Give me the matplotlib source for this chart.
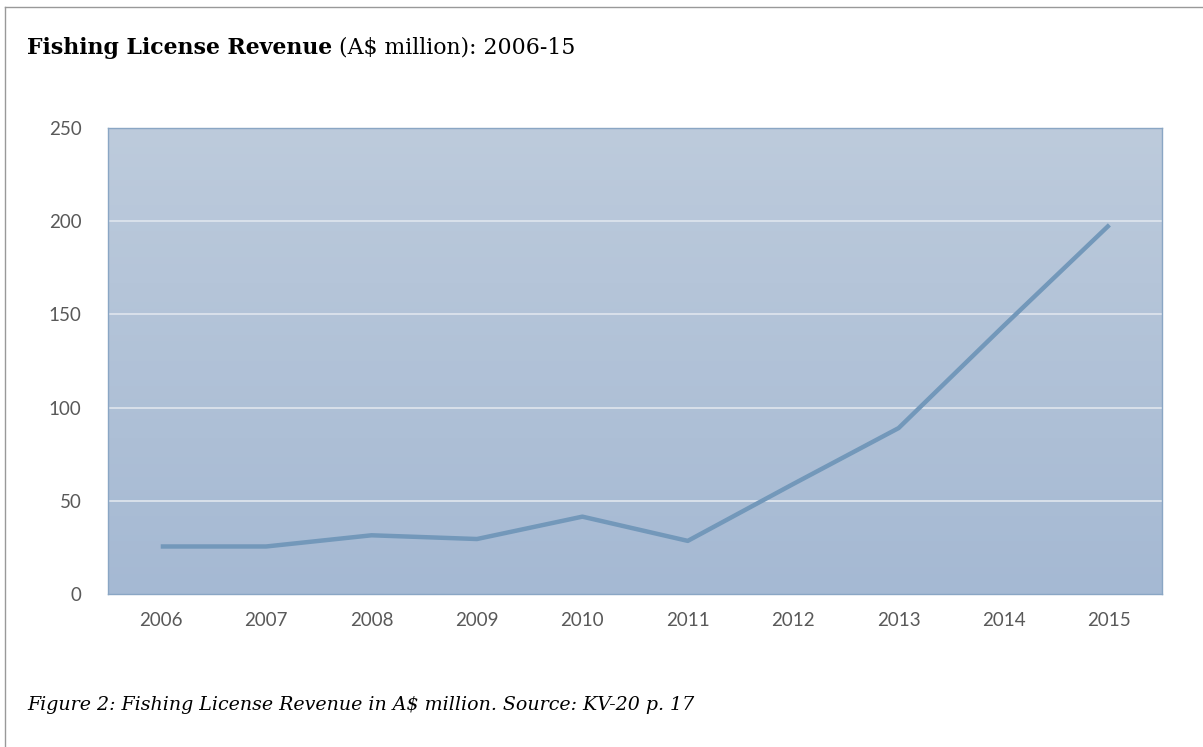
import matplotlib.pyplot as plt
import numpy as np
from matplotlib.colors import LinearSegmentedColormap
from matplotlib.lines import Line2D

years = ['2006', '2007', '2008', '2009', '2010', '2011', '2012', '2013', '2014', '2015']
revenue = [25.5, 25.5, 31.5, 29.5, 41.5, 28.5, 59, 89, 144, 198]
yticks = [0, 50, 100, 150, 200, 250]

fig = plt.figure(figsize=(12.03, 7.47), dpi=100)
ax = fig.add_axes([0.0898, 0.2048, 0.8762, 0.6239])

# gradient background of the plot area
grad = LinearSegmentedColormap.from_list('bg', ['#a5b9d3', '#bdcbdc'])
ax.imshow(np.linspace(0, 1, 256).reshape(-1, 1), cmap=grad, origin='lower',
          extent=[0, 1, 0, 1], transform=ax.transAxes, aspect='auto', zorder=0)

x = np.arange(len(years))
ax.plot(x, revenue, color='#7398ba', linewidth=3.2, solid_capstyle='butt', zorder=3)

ax.set_xlim(-0.5, len(years) - 0.5)
ax.set_ylim(0, 250)
ax.set_xticks(x, years)
ax.set_yticks(yticks)
for t in yticks[1:-1]:
    ax.axhline(t, color='#dce3ec', linewidth=1.3, zorder=1)
ax.tick_params(length=0, labelsize=13.5, colors='#595959', pad=13)
ax.tick_params(axis='y', pad=19)
for lab in ax.get_xticklabels() + ax.get_yticklabels():
    lab.set_family('Lato')
for s in ax.spines.values():
    s.set_color('#8aa6c4')
    s.set_linewidth(1.0)

# title: bold part + regular part right after it
t1 = fig.text(0.0224, 0.936, 'Fishing License Revenue', family='DejaVu Serif',
              fontweight='bold', fontsize=15.8, va='center', ha='left')
ax.annotate(' (A$ million): 2006-15', xy=(1, 0.5), xycoords=t1, va='center', ha='left',
            family='DejaVu Serif', fontsize=15.8, annotation_clip=False)
fig.text(0.0224, 0.056, 'Figure 2: Fishing License Revenue in A$ million. Source: KV-20 p. 17',
         family='DejaVu Serif', style='italic', fontsize=13.7, va='center', ha='left')

# page frame lines
fig.add_artist(Line2D([0.0045, 0.0045], [0, 0.991], transform=fig.transFigure, color='#999999', lw=1))
fig.add_artist(Line2D([0.0045, 1], [0.991, 0.991], transform=fig.transFigure, color='#999999', lw=1))

fig.savefig('out.png', dpi=100)
